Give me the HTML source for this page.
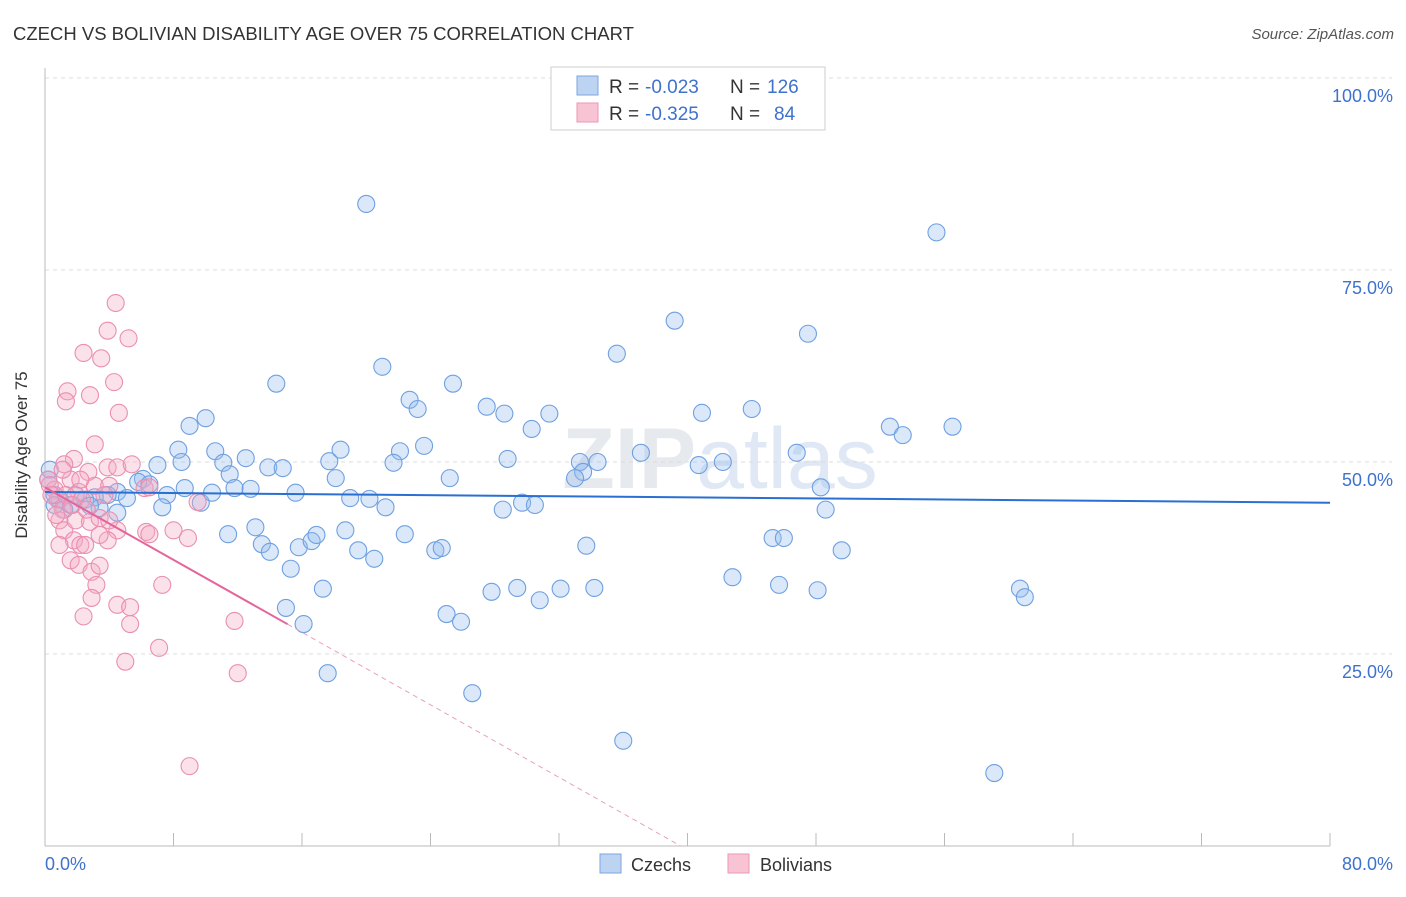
<!DOCTYPE html>
<html><head><meta charset="utf-8"><style>
body{margin:0;background:#fff;font-family:"Liberation Sans",sans-serif;}
svg text{font-family:"Liberation Sans",sans-serif;}
</style></head><body>
<svg id="chart" width="1406" height="892">
<text x="13" y="40" font-size="18.5" fill="#333">CZECH VS BOLIVIAN DISABILITY AGE OVER 75 CORRELATION CHART</text>
<text x="1394" y="39" font-size="15" fill="#555" text-anchor="end" font-style="italic">Source: ZipAtlas.com</text>
<text x="720" y="488" font-size="86" fill="#e6e9ee" text-anchor="middle" font-weight="bold">ZIP<tspan font-weight="normal" fill="#dfe8f4">atlas</tspan></text>
<g id="grid"></g>
<g id="axes"></g>
<g id="trend"></g>
<g id="pts"></g>
<text x="27" y="455" font-size="17" fill="#333" text-anchor="middle" transform="rotate(-90 27 455)">Disability Age Over 75</text>
<g>
<rect x="551" y="67" width="274" height="63" fill="#fff" stroke="#ccc"/>
<rect x="577" y="76" width="21" height="19" fill="#bcd4f2" stroke="#7aa6de"/>
<rect x="577" y="103" width="21" height="19" fill="#f8c4d4" stroke="#eb97b4"/>
<text x="609" y="93" font-size="19" fill="#333">R =</text>
<text x="645" y="93" font-size="19" fill="#3f72cc">-0.023</text>
<text x="730" y="93" font-size="19" fill="#333">N =</text>
<text x="767" y="93" font-size="19" fill="#3f72cc">126</text>
<text x="609" y="120" font-size="19" fill="#333">R =</text>
<text x="645" y="120" font-size="19" fill="#3f72cc">-0.325</text>
<text x="730" y="120" font-size="19" fill="#333">N =</text>
<text x="774" y="120" font-size="19" fill="#3f72cc">84</text>
</g>
<g><rect x="600" y="854" width="21" height="19" fill="#bcd4f2" stroke="#7aa6de"/><text x="631" y="871" font-size="18" fill="#333">Czechs</text></g>
<g><rect x="728" y="854" width="21" height="19" fill="#f8c4d4" stroke="#eb97b4"/><text x="760" y="871" font-size="18" fill="#333">Bolivians</text></g>
</svg>
<script>
const yTicks=[25,50,75,100];
const yTickLabels=["25.0%","50.0%","75.0%","100.0%"];
const xTickVals=[0,8,16,24,32,40,48,56,64,72,80];
const czechX=[20.0,55.5,39.2,47.5,35.6,14.4,21.0,25.4,22.7,23.2,27.5,28.6,31.4,40.9,44.0,10.0,9.0,30.3,52.6,53.4,56.5,8.3,8.5,10.6,12.5,11.1,11.5,13.9,14.8,17.7,18.4,22.1,21.7,23.6,28.8,37.1,33.3,34.4,33.5,33.0,40.7,42.2,46.8,7.0,6.1,5.8,6.5,7.6,7.3,8.7,9.7,10.4,11.8,12.8,15.6,18.1,19.0,20.2,21.2,25.2,28.5,29.7,30.5,48.3,48.6,4.5,5.1,3.9,3.1,3.4,4.5,1.9,1.6,0.9,0.6,0.3,11.4,13.1,13.5,14.0,15.8,16.6,16.9,18.7,19.5,20.5,22.4,24.3,24.7,33.7,45.3,46.0,49.6,15.3,17.3,27.8,29.4,30.8,32.1,34.2,42.8,45.7,48.1,60.7,61.0,15.0,16.1,25.0,25.9,17.6,26.6,36.0,59.1,2.5,2.8,1.2,0.6,0.2];
const czechY=[83.6,79.9,68.4,66.7,64.1,60.2,62.4,60.2,58.1,56.9,57.2,56.3,56.3,56.4,56.9,55.7,54.7,54.3,54.6,53.5,54.6,51.6,50.0,51.4,50.5,49.9,48.4,49.3,49.2,50.1,51.6,51.4,49.9,52.1,50.4,51.2,50.0,50.0,48.7,47.9,49.6,50.0,51.2,49.6,47.8,47.4,47.1,45.7,44.1,46.6,44.7,46.0,46.6,46.5,46.0,47.9,45.3,45.2,44.1,47.9,43.8,44.7,44.4,46.7,43.8,46.1,45.3,45.7,45.4,44.0,43.4,45.7,44.4,45.1,45.7,49.0,40.6,41.5,39.3,38.3,38.9,39.7,40.5,41.1,38.5,37.4,40.6,38.5,38.8,39.1,40.1,40.1,38.5,36.1,33.5,33.1,33.6,32.0,33.5,33.6,35.0,34.0,33.3,33.5,32.4,31.0,28.9,30.2,29.2,22.5,19.9,13.7,9.5,45.1,44.3,43.8,44.4,47.7];
const bolX=[4.4,3.9,5.2,2.4,3.5,4.3,1.4,1.3,2.8,4.6,3.1,1.8,1.2,2.7,3.9,4.5,5.4,0.2,0.6,0.8,1.1,1.6,2.1,2.3,3.1,4.0,6.2,6.5,9.5,0.9,1.2,1.9,2.8,3.4,4.5,3.9,1.8,2.2,0.9,1.6,2.1,2.9,3.4,3.2,2.9,6.3,6.5,8.0,8.9,7.3,2.4,4.5,5.3,5.3,11.8,7.1,5.0,12.0,9.0,0.3,0.4,1.3,1.7,2.6,3.4,4.0,0.7,2.2,1.1,2.5,3.7];
const bolY=[70.7,67.1,66.1,64.2,63.5,60.4,59.2,57.9,58.7,56.4,52.3,50.4,49.7,48.7,49.3,49.3,49.7,47.7,46.4,45.1,43.8,47.7,46.1,45.1,46.9,46.9,46.6,46.7,44.8,42.4,41.1,42.4,42.2,42.7,41.1,39.8,39.8,39.2,39.2,37.2,36.6,35.7,36.5,34.0,32.3,40.9,40.6,41.1,40.1,34.0,29.9,31.4,31.1,28.9,29.3,25.8,24.0,22.5,10.4,47.0,45.7,45.7,44.4,43.8,40.5,42.4,43.1,47.7,49.0,39.2,45.7];
const czechTrend=[46.1,44.7];
const bolTrend=[46.7,-1.18];
const bolSolidEnd=15.1;

const NS="http://www.w3.org/2000/svg";
const X=v=>45+v/80*1285;
const Y=v=>846-v/100*768;
function mk(tag,attrs,parent){const e=document.createElementNS(NS,tag);for(const k in attrs)e.setAttribute(k,attrs[k]);parent.appendChild(e);return e;}
const grid=document.getElementById('grid'),axes=document.getElementById('axes'),trend=document.getElementById('trend'),pts=document.getElementById('pts');
yTicks.forEach((t,i)=>{
 const l=mk('line',{x1:45,x2:1392,y1:Y(t),y2:Y(t),stroke:'#dcdcdc','stroke-dasharray':'4,4'},grid);
 
 
 const tx=mk('text',{x:1393,y:Y(t)+24,'font-size':18,fill:'#3f72cc','text-anchor':'end'},grid);
 tx.textContent=yTickLabels[i];
 
 
});
const ya=mk('line',{x1:45,x2:45,y1:68,y2:846,stroke:'#bbb'},axes);


const xa=mk('line',{x1:45,x2:1330,y1:846,y2:846,stroke:'#bbb'},axes);


xTickVals.forEach(v=>{
 const t=mk('line',{x1:X(v),x2:X(v),y1:833,y2:846,stroke:'#bbb'},axes);
 
 
});
const xl0=mk('text',{x:45,y:870,'font-size':18,fill:'#3f72cc'},axes);xl0.textContent='0.0%';


const xl1=mk('text',{x:1393,y:870,'font-size':18,fill:'#3f72cc','text-anchor':'end'},axes);xl1.textContent='80.0%';



czechX.forEach((v,i)=>{
 const c=mk('circle',{cx:X(v),cy:Y(czechY[i]),r:8.5,fill:'rgba(150,190,238,0.35)',stroke:'#6fa0e0','stroke-width':1.1},pts);
 
 
});
bolX.forEach((v,i)=>{
 const c=mk('circle',{cx:X(v),cy:Y(bolY[i]),r:8.5,fill:'rgba(244,170,196,0.35)',stroke:'#ea8fb0','stroke-width':1.1},pts);
 
 
});
const bt=mk('line',{x1:X(0),y1:Y(czechTrend[0]),x2:X(80),y2:Y(czechTrend[1]),stroke:'#2a6fd1','stroke-width':2},pts);


const pEnd=-bolTrend[0]/bolTrend[1];
const pd=mk('line',{x1:X(bolSolidEnd),y1:Y(bolTrend[0]+bolTrend[1]*bolSolidEnd),x2:X(pEnd),y2:Y(0),stroke:'#e8a0bb','stroke-width':1,'stroke-dasharray':'5,4'},pts);


const ps=mk('line',{x1:X(0),y1:Y(bolTrend[0]),x2:X(bolSolidEnd),y2:Y(bolTrend[0]+bolTrend[1]*bolSolidEnd),stroke:'#e5649a','stroke-width':2},pts);


</script>
</body></html>
